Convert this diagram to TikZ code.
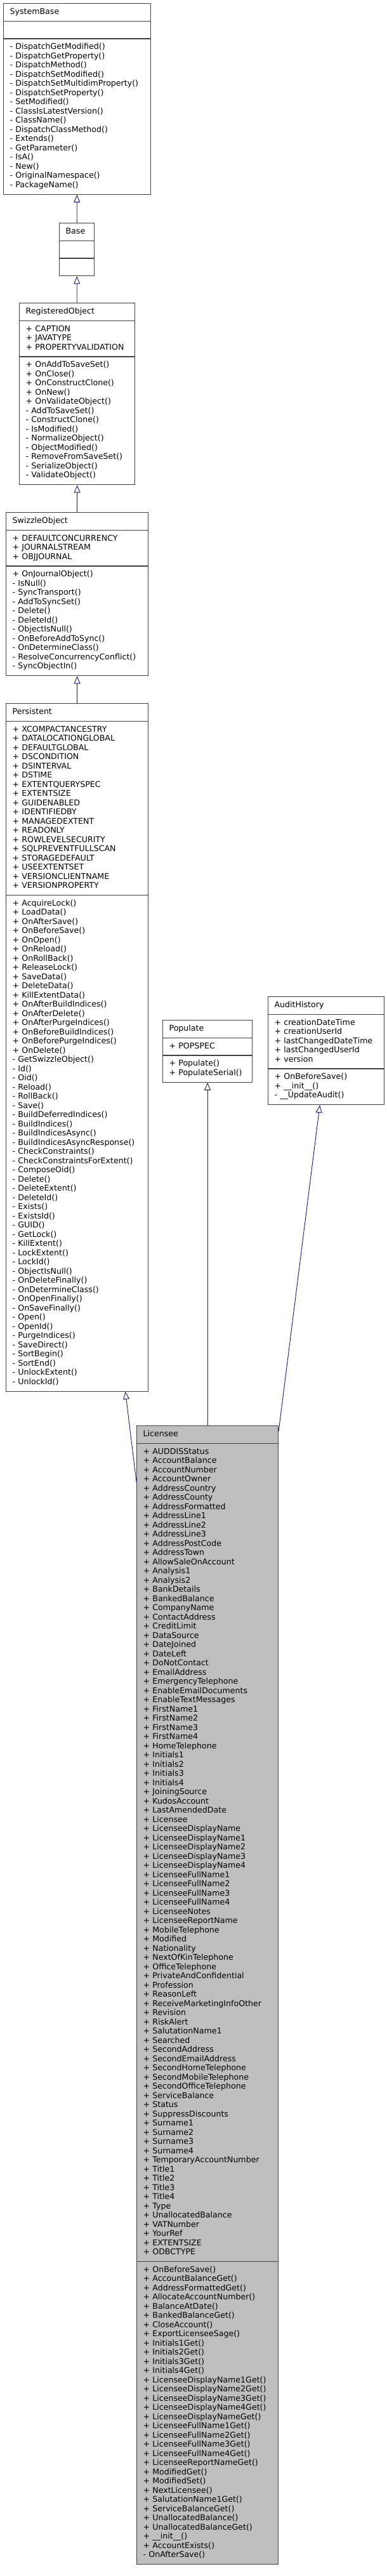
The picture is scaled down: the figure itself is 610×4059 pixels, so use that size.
\documentclass[tikz,border=0pt]{standalone}
\usepackage{fontspec}
\setmainfont{DejaVu Sans}
\usetikzlibrary{shapes.multipart}
\usetikzlibrary{arrows.meta}
\usetikzlibrary{calc}

\definecolor{edgeblue}{HTML}{191970}
\definecolor{boxgray}{HTML}{404040}
\definecolor{focusfill}{HTML}{BFBFBF}

\tikzset{
  umlclass/.style={draw=boxgray, line width=1.2pt, rectangle split, rectangle split parts=3,
    anchor=north west, inner xsep=10pt, inner ysep=6pt, align=left, fill=white,
    font=\fontsize{12.6}{14.5}\selectfont},
  inherit/.style={draw=edgeblue, line width=0.9pt,
    -{Triangle[open, fill=white, length=12pt, width=10pt]}}
}

\begin{document}
\begin{tikzpicture}[x=1pt, y=-1pt]

    \useasboundingbox (0,0) rectangle (610,4059);

    \node(sysbase)[umlclass, text width=212pt] at (5,5)
        {\centering\strut SystemBase\strut
         \nodepart{two}\strut
         \nodepart{three}\strut - DispatchGetModified()\\ - DispatchGetProperty()\\ - DispatchMethod()\\
         - DispatchSetModified()\\ - DispatchSetMultidimProperty()\\ - DispatchSetProperty()\\
         - SetModified()\\ - ClassIsLatestVersion()\\ - ClassName()\\ - DispatchClassMethod()\\
         - Extends()\\ - GetParameter()\\ - IsA()\\ - New()\\ - OriginalNamespace()\\ - PackageName()\strut};

    \node(base)[umlclass, text width=35pt] at (93,351)
        {\centering\strut Base\strut \nodepart{two}\strut \nodepart{three}\strut};

    \node(regobj)[umlclass, text width=162pt] at (30,477)
        {\centering\strut RegisteredObject\strut
         \nodepart{two}\strut + CAPTION\\ + JAVATYPE\\ + PROPERTYVALIDATION\strut
         \nodepart{three}\strut + OnAddToSaveSet()\\ + OnClose()\\ + OnConstructClone()\\ + OnNew()\\
         + OnValidateObject()\\ - AddToSaveSet()\\ - ConstructClone()\\ - IsModified()\\
         - NormalizeObject()\\ - ObjectModified()\\ - RemoveFromSaveSet()\\ - SerializeObject()\\
         - ValidateObject()\strut};

    \node(swizzle)[umlclass, text width=204pt] at (9,807)
        {\centering\strut SwizzleObject\strut
         \nodepart{two}\strut + DEFAULTCONCURRENCY\\ + JOURNALSTREAM\\ + OBJJOURNAL\strut
         \nodepart{three}\strut + OnJournalObject()\\ - IsNull()\\ - SyncTransport()\\ - AddToSyncSet()\\
         - Delete()\\ - DeleteId()\\ - ObjectIsNull()\\ - OnBeforeAddToSync()\\ - OnDetermineClass()\\
         - ResolveConcurrencyConflict()\\ - SyncObjectIn()\strut};

    \node(persistent)[umlclass, text width=204pt] at (9,1108)
        {\centering\strut Persistent\strut
         \nodepart{two}\strut + XCOMPACTANCESTRY\\ + DATALOCATIONGLOBAL\\ + DEFAULTGLOBAL\\ + DSCONDITION\\
         + DSINTERVAL\\ + DSTIME\\ + EXTENTQUERYSPEC\\ + EXTENTSIZE\\ + GUIDENABLED\\ + IDENTIFIEDBY\\
         + MANAGEDEXTENT\\ + READONLY\\ + ROWLEVELSECURITY\\ + SQLPREVENTFULLSCAN\\ + STORAGEDEFAULT\\
         + USEEXTENTSET\\ + VERSIONCLIENTNAME\\ + VERSIONPROPERTY\strut
         \nodepart{three}\strut + AcquireLock()\\ + LoadData()\\ + OnAfterSave()\\ + OnBeforeSave()\\
         + OnOpen()\\ + OnReload()\\ + OnRollBack()\\ + ReleaseLock()\\ + SaveData()\\ + DeleteData()\\
         + KillExtentData()\\ + OnAfterBuildIndices()\\ + OnAfterDelete()\\ + OnAfterPurgeIndices()\\
         + OnBeforeBuildIndices()\\ + OnBeforePurgeIndices()\\ + OnDelete()\\ - GetSwizzleObject()\\
         - Id()\\ - Oid()\\ - Reload()\\ - RollBack()\\ - Save()\\ - BuildDeferredIndices()\\
         - BuildIndices()\\ - BuildIndicesAsync()\\ - BuildIndicesAsyncResponse()\\ - CheckConstraints()\\
         - CheckConstraintsForExtent()\\ - ComposeOid()\\ - Delete()\\ - DeleteExtent()\\ - DeleteId()\\
         - Exists()\\ - ExistsId()\\ - GUID()\\ - GetLock()\\ - KillExtent()\\ - LockExtent()\\
         - LockId()\\ - ObjectIsNull()\\ - OnDeleteFinally()\\ - OnDetermineClass()\\ - OnOpenFinally()\\
         - OnSaveFinally()\\ - Open()\\ - OpenId()\\ - PurgeIndices()\\ - SaveDirect()\\ - SortBegin()\\
         - SortEnd()\\ - UnlockExtent()\\ - UnlockId()\strut};

    \node(populate)[umlclass, text width=121pt] at (256,1607)
        {\centering\strut Populate\strut
         \nodepart{two}\strut + POPSPEC\strut
         \nodepart{three}\strut + Populate()\\ + PopulateSerial()\strut};

    \node(audit)[umlclass, text width=163pt] at (422,1570)
        {\centering\strut AuditHistory\strut
         \nodepart{two}\strut + creationDateTime\\ + creationUserId\\ + lastChangedDateTime\\
         + lastChangedUserId\\ + version\strut
         \nodepart{three}\strut + OnBeforeSave()\\ + \_\_init\_\_()\\ - \_\_UpdateAudit()\strut};

    \node(licensee)[umlclass, fill=focusfill, text width=203pt] at (215,2246)
        {\centering\strut Licensee\strut
         \nodepart{two}\strut + AUDDISStatus\\ + AccountBalance\\ + AccountNumber\\ + AccountOwner\\
         + AddressCountry\\ + AddressCounty\\ + AddressFormatted\\ + AddressLine1\\ + AddressLine2\\
         + AddressLine3\\ + AddressPostCode\\ + AddressTown\\ + AllowSaleOnAccount\\ + Analysis1\\
         + Analysis2\\ + BankDetails\\ + BankedBalance\\ + CompanyName\\ + ContactAddress\\
         + CreditLimit\\ + DataSource\\ + DateJoined\\ + DateLeft\\ + DoNotContact\\ + EmailAddress\\
         + EmergencyTelephone\\ + EnableEmailDocuments\\ + EnableTextMessages\\ + FirstName1\\
         + FirstName2\\ + FirstName3\\ + FirstName4\\ + HomeTelephone\\ + Initials1\\ + Initials2\\
         + Initials3\\ + Initials4\\ + JoiningSource\\ + KudosAccount\\ + LastAmendedDate\\ + Licensee\\
         + LicenseeDisplayName\\ + LicenseeDisplayName1\\ + LicenseeDisplayName2\\
         + LicenseeDisplayName3\\ + LicenseeDisplayName4\\ + LicenseeFullName1\\ + LicenseeFullName2\\
         + LicenseeFullName3\\ + LicenseeFullName4\\ + LicenseeNotes\\ + LicenseeReportName\\
         + MobileTelephone\\ + Modified\\ + Nationality\\ + NextOfKinTelephone\\ + OfficeTelephone\\
         + PrivateAndConfidential\\ + Profession\\ + ReasonLeft\\ + ReceiveMarketingInfoOther\\
         + Revision\\ + RiskAlert\\ + SalutationName1\\ + Searched\\ + SecondAddress\\
         + SecondEmailAddress\\ + SecondHomeTelephone\\ + SecondMobileTelephone\\
         + SecondOfficeTelephone\\ + ServiceBalance\\ + Status\\ + SuppressDiscounts\\ + Surname1\\
         + Surname2\\ + Surname3\\ + Surname4\\ + TemporaryAccountNumber\\ + Title1\\ + Title2\\
         + Title3\\ + Title4\\ + Type\\ + UnallocatedBalance\\ + VATNumber\\ + YourRef\\
         + EXTENTSIZE\\ + ODBCTYPE\strut
         \nodepart{three}\strut + OnBeforeSave()\\ + AccountBalanceGet()\\ + AddressFormattedGet()\\
         + AllocateAccountNumber()\\ + BalanceAtDate()\\ + BankedBalanceGet()\\ + CloseAccount()\\
         + ExportLicenseeSage()\\ + Initials1Get()\\ + Initials2Get()\\ + Initials3Get()\\
         + Initials4Get()\\ + LicenseeDisplayName1Get()\\ + LicenseeDisplayName2Get()\\
         + LicenseeDisplayName3Get()\\ + LicenseeDisplayName4Get()\\ + LicenseeDisplayNameGet()\\
         + LicenseeFullName1Get()\\ + LicenseeFullName2Get()\\ + LicenseeFullName3Get()\\
         + LicenseeFullName4Get()\\ + LicenseeReportNameGet()\\ + ModifiedGet()\\ + ModifiedSet()\\
         + NextLicensee()\\ + SalutationName1Get()\\ + ServiceBalanceGet()\\
         + UnallocatedBalance()\\ + UnallocatedBalanceGet()\\ + \_\_init\_\_()\\
         + AccountExists()\\ - OnAfterSave()\strut};

    % inheritance edges
    \coordinate(licW) at ($(licensee.north west)+(0,89)$);
    \coordinate(licNE) at ($(licensee.north east)+(0,9)$);
    \coordinate(persTip) at ($(persistent.south)+(76,0)$);
    \coordinate(auditTip) at ($(audit.south)+(-10,0)$);

    \draw[inherit] (base) -- (sysbase);
    \draw[inherit] (regobj) -- (base);
    \draw[inherit] (swizzle) -- (regobj);
    \draw[inherit] (persistent) -- (swizzle);
    \draw[inherit] (licW) -- (persTip);
    \draw[inherit] (licensee.north) -- (populate.south);
    \draw[inherit] (licNE) -- (auditTip);

\end{tikzpicture}
\end{document}
